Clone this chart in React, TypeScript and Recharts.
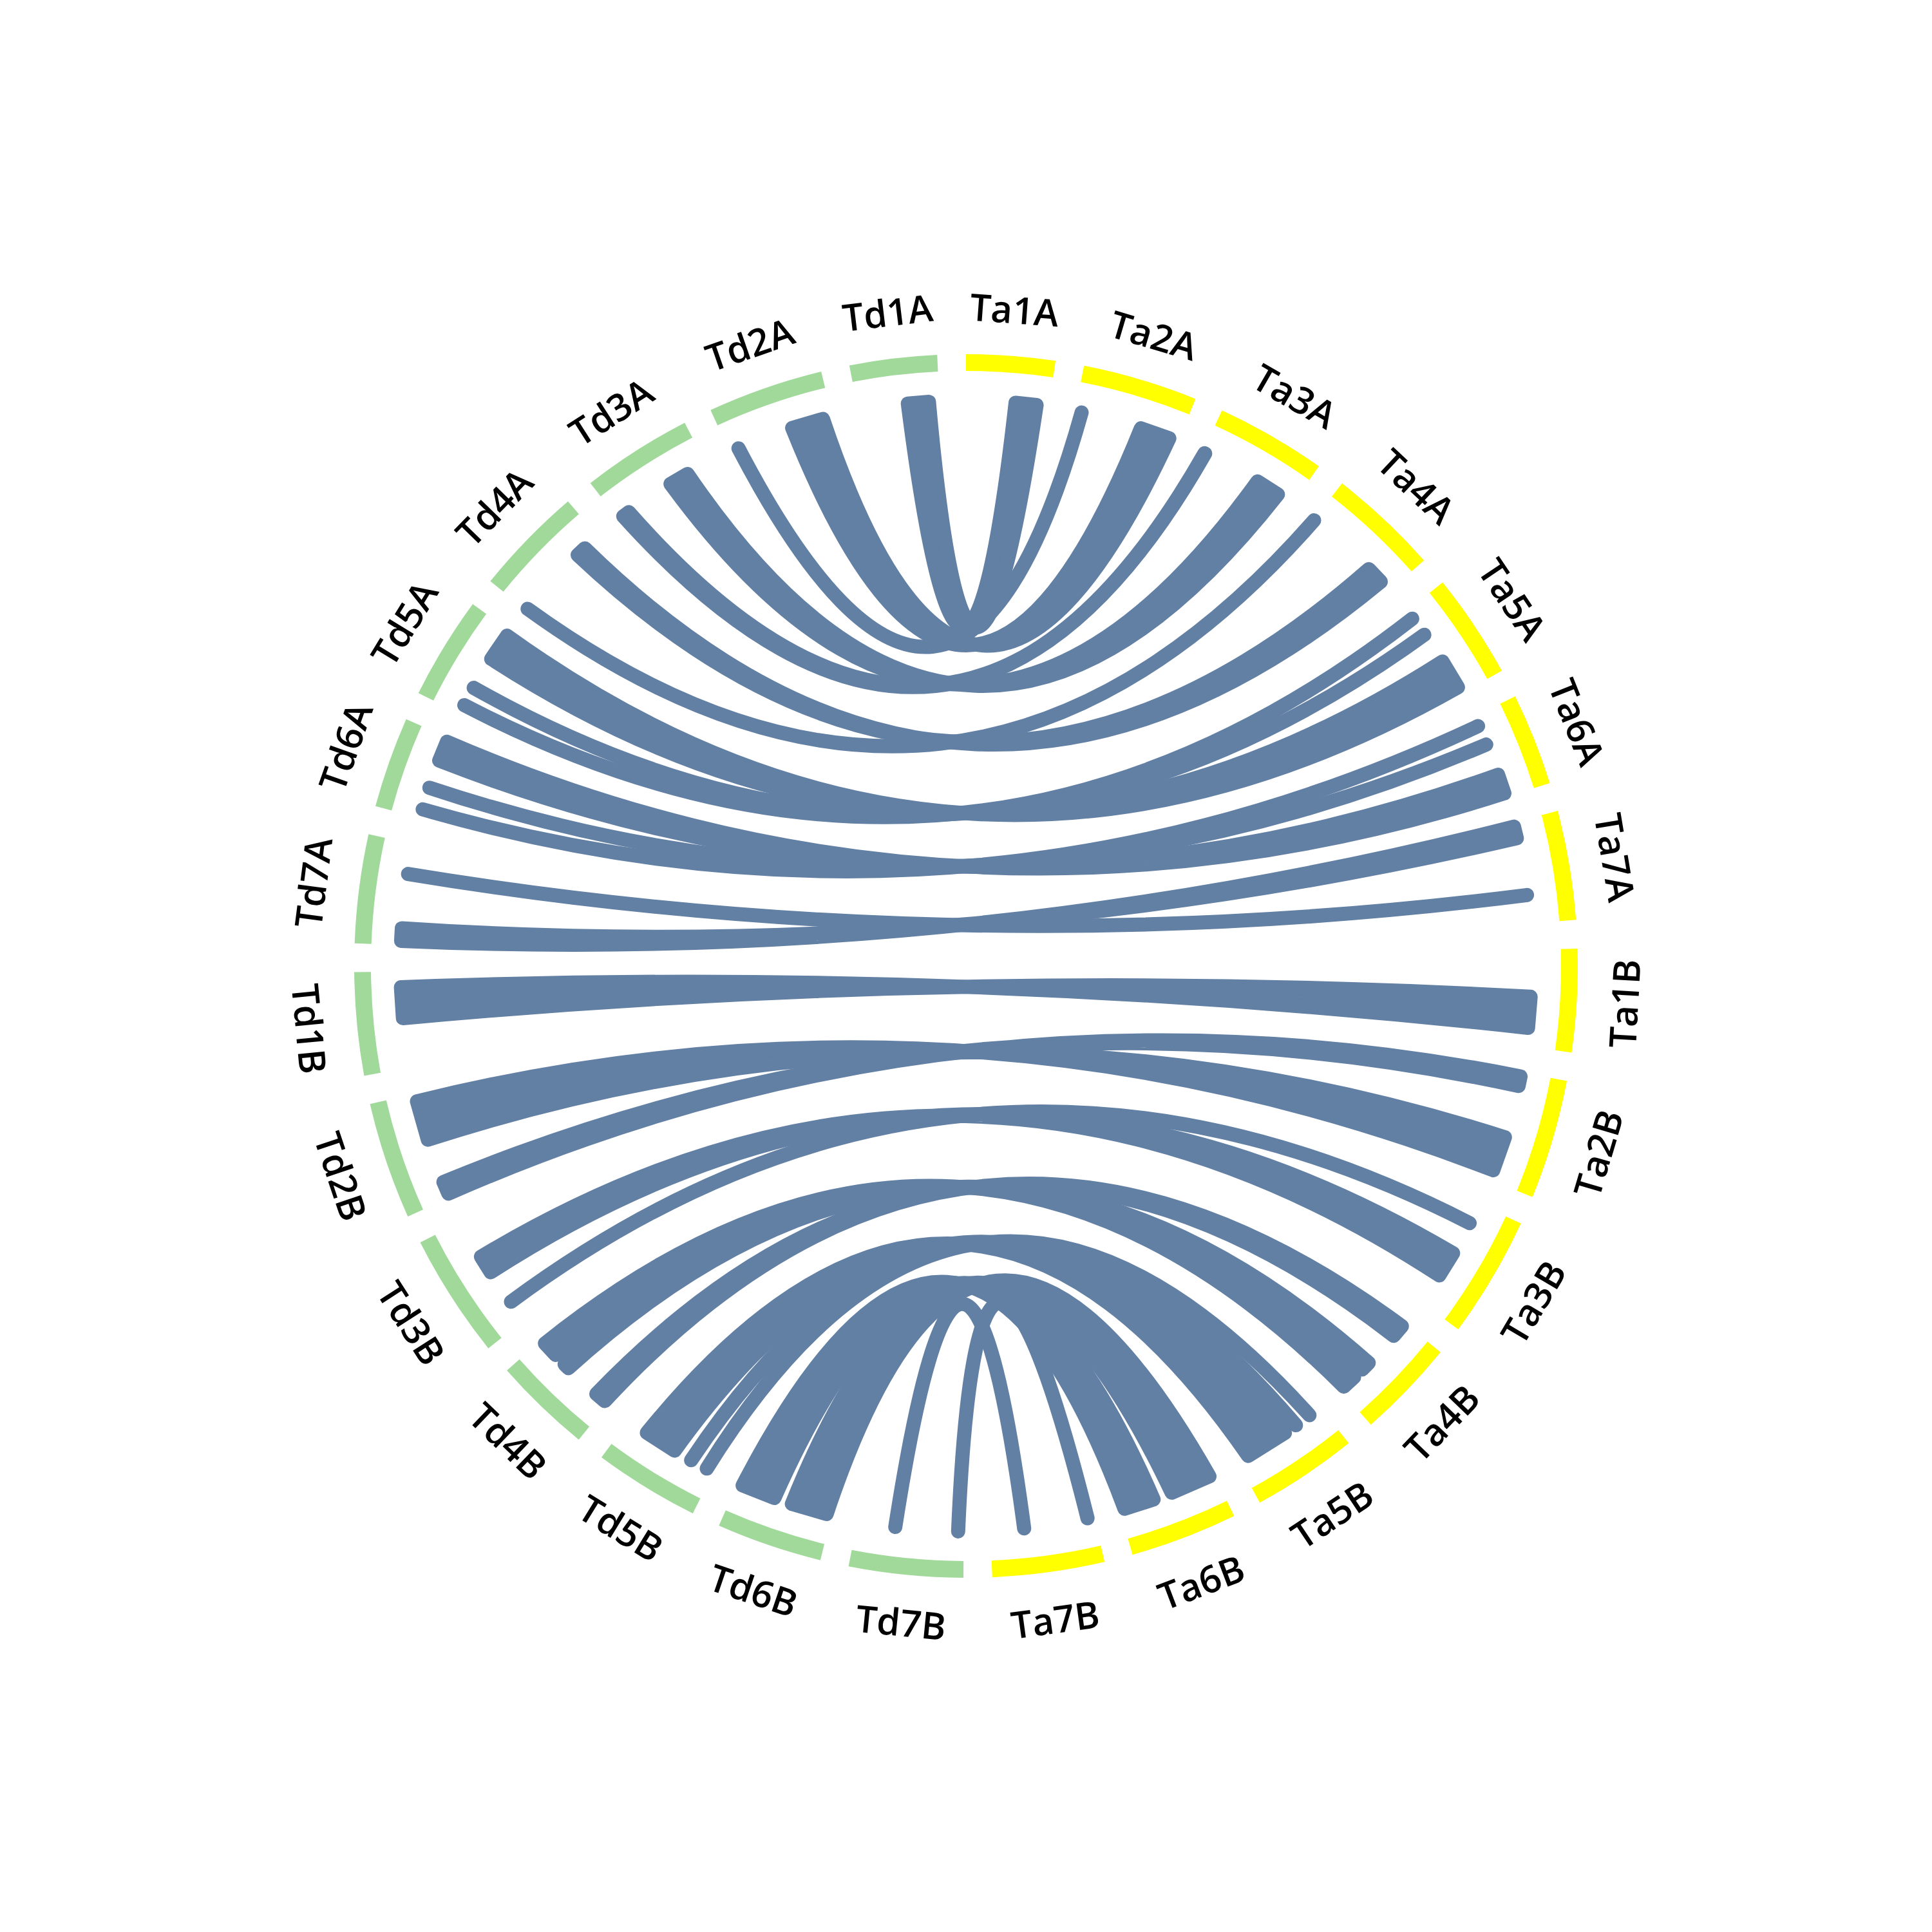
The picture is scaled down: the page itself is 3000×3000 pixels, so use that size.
import { PieChart, Pie, Cell, Customized } from 'recharts';

// chromosome order going clockwise from 12 o'clock
const taNames = ['Ta1A', 'Ta2A', 'Ta3A', 'Ta4A', 'Ta5A', 'Ta6A', 'Ta7A', 'Ta1B', 'Ta2B', 'Ta3B', 'Ta4B', 'Ta5B', 'Ta6B', 'Ta7B'];
const taLengths = [594, 770, 740, 744, 704, 618, 731, 689, 801, 815, 665, 708, 720, 750];
const tdNames = ['Td7B', 'Td6B', 'Td5B', 'Td4B', 'Td3B', 'Td2B', 'Td1B', 'Td7A', 'Td6A', 'Td5A', 'Td4A', 'Td3A', 'Td2A', 'Td1A'];
const tdLengths = [764, 709, 709, 660, 833, 785, 689, 728, 610, 690, 737, 741, 775, 585];

// syntenic blocks: Ta chrom, start, end (Mb) -> Td chrom, start, end (Mb)
const links: [string, number, number, string, number, number][] = [
  ['Ta1A', 355, 506, 'Td1A', 359, 510],
  ['Ta2A', 487, 702, 'Td2A', 478, 707],
  ['Ta2A', 48, 48, 'Td2A', 67, 67],
  ['Ta3A', 444, 617, 'Td3A', 450, 591],
  ['Ta3A', 15, 20, 'Td3A', 40, 90],
  ['Ta4A', 529, 653, 'Td4A', 540, 610],
  ['Ta4A', 5, 5, 'Td4A', 14, 14],
  ['Ta5A', 441, 656, 'Td5A', 452, 653],
  ['Ta5A', 66, 66, 'Td5A', 69, 69],
  ['Ta5A', 210, 210, 'Td5A', 210, 210],
  ['Ta6A', 450, 590, 'Td6A', 434, 580],
  ['Ta6A', 74, 74, 'Td6A', 66, 66],
  ['Ta6A', 218, 218, 'Td6A', 228, 228],
  ['Ta7A', 30, 115, 'Td7A', 30, 120],
  ['Ta7A', 528, 528, 'Td7A', 511, 511],
  ['Ta1B', 335, 558, 'Td1B', 356, 578],
  ['Ta2B', 30, 100, 'Td2B', 30, 120],
  ['Ta2B', 479, 729, 'Td2B', 443, 728],
  ['Ta3B', 152, 152, 'Td3B', 159, 159],
  ['Ta3B', 398, 584, 'Td3B', 415, 546],
  ['Ta4B', 30, 120, 'Td4B', 30, 110],
  ['Ta4B', 384, 450, 'Td4B', 381, 420],
  ['Ta4B', 530, 630, 'Td4B', 513, 625],
  ['Ta5B', 94, 94, 'Td5B', 54, 54],
  ['Ta5B', 214, 214, 'Td5B', 181, 181],
  ['Ta5B', 310, 620, 'Td5B', 317, 553],
  ['Ta6B', 35, 329, 'Td6B', 35, 294],
  ['Ta6B', 467, 685, 'Td6B', 426, 670],
  ['Ta7B', 48, 48, 'Td7B', 39, 39],
  ['Ta7B', 507, 507, 'Td7B', 490, 490],
];

const SIZE = 3000;
const CX = 1500;
const CY = 1500;
const INNER = 924;
const OUTER = 950;
const LINK_R = 878;
const LABEL_R = 1023;
const GAP = 2.7;
const TA_COLOR = '#ffff00';
const TD_COLOR = '#a1d99b';
const LINK_COLOR = '#627fa4';

const chroms = [
  ...taNames.map((name, i) => ({ name, len: taLengths[i], fill: TA_COLOR })),
  ...tdNames.map((name, i) => ({ name, len: tdLengths[i], fill: TD_COLOR })),
];

// same split the pie does: 360 minus padding, shared by length
const total = chroms.reduce((s, c) => s + c.len, 0);
const degPerMb = (360 - chroms.length * GAP) / total;
const starts: Record<string, number> = {};
let acc = 0;
chroms.forEach((c) => {
  starts[c.name] = acc;
  acc += c.len * degPerMb + GAP;
});

const RAD = Math.PI / 180;
const ang = (name: string, pos: number) => starts[name] + pos * degPerMb;
const pt = (deg: number, r = LINK_R) => [CX + r * Math.sin(deg * RAD), CY - r * Math.cos(deg * RAD)];

// control point sits on the bisector, pulled outwards for short links
function ctrl(a: number, b: number) {
  const ux = Math.sin(a * RAD) + Math.sin(b * RAD);
  const uy = -Math.cos(a * RAD) - Math.cos(b * RAD);
  const len = Math.hypot(ux, uy);
  if (len < 1e-6) return [CX, CY];
  const pull = 0.205 * LINK_R * Math.max(0, (len / 2 - 0.54) / 0.46);
  return [CX + (ux / len) * pull, CY + (uy / len) * pull];
}

const f = (p: number[]) => `${p[0].toFixed(1)},${p[1].toFixed(1)}`;

function Links() {
  return (
    <g>
      {links.map(([ta, taS, taE, td, tdS, tdE], i) => {
        const a1 = ang(td, tdS);
        const b1 = ang(ta, taS);
        const a2 = ang(td, tdE);
        const b2 = ang(ta, taE);
        const single = taS === taE && tdS === tdE;
        const d = single
          ? `M${f(pt(a1))} Q${f(ctrl(a1, b1))} ${f(pt(b1))}`
          : `M${f(pt(a1))} Q${f(ctrl(a1, b1))} ${f(pt(b1))} L${f(pt(b2))} Q${f(ctrl(a2, b2))} ${f(pt(a2))} Z`;
        return (
          <path
            key={i}
            d={d}
            fill={single ? 'none' : LINK_COLOR}
            stroke={LINK_COLOR}
            strokeWidth={22}
            strokeLinecap="round"
            strokeLinejoin="round"
          />
        );
      })}
    </g>
  );
}

function renderLabel(props: any) {
  const theta = (((90 - props.midAngle) % 360) + 360) % 360;
  const [x, y] = pt(theta, LABEL_R);
  const rot = theta > 90 && theta < 270 ? theta - 180 : theta > 270 ? theta - 360 : theta;
  return (
    <text
      key={props.name}
      x={x}
      y={y}
      transform={`rotate(${rot.toFixed(2)} ${x.toFixed(1)} ${y.toFixed(1)})`}
      textAnchor="middle"
      dominantBaseline="central"
      fontFamily="'Open Sans', 'DejaVu Sans', sans-serif"
      fontWeight={600}
      fontSize={58}
      fill="#000"
    >
      {props.name}
    </text>
  );
}

export default function App() {
  return (
    <div style={{ position: 'absolute', left: 0, top: 0, width: SIZE, height: SIZE, background: '#fff' }}>
      <PieChart width={SIZE} height={SIZE} margin={{ top: 0, right: 0, bottom: 0, left: 0 }}>
        <Customized component={<Links />} />
        <Pie
          data={chroms}
          dataKey="len"
          nameKey="name"
          cx={CX}
          cy={CY}
          innerRadius={INNER}
          outerRadius={OUTER}
          startAngle={90}
          endAngle={-270}
          paddingAngle={GAP}
          stroke="none"
          label={renderLabel}
          labelLine={false}
          isAnimationActive={false}
        >
          {chroms.map((c) => (
            <Cell key={c.name} fill={c.fill} />
          ))}
        </Pie>
      </PieChart>
    </div>
  );
}
